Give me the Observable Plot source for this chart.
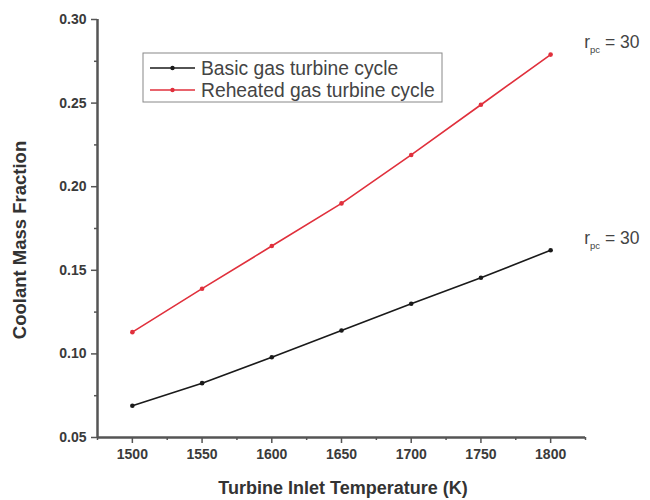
<!DOCTYPE html>
<html>
<head>
<meta charset="utf-8">
<script src="https://cdn.jsdelivr.net/npm/d3@7"></script>
<script src="https://cdn.jsdelivr.net/npm/@observablehq/plot@0.6"></script>
<style>
  html, body { margin: 0; padding: 0; background: #fff; }
  #chart { width: 650px; height: 500px; }
</style>
</head>
<body>
<div id="chart"></div>
<script>
const temperatures = [1500, 1550, 1600, 1650, 1700, 1750, 1800];
const basicValues = [0.069, 0.0825, 0.098, 0.114, 0.130, 0.1455, 0.162];
const reheatValues = [0.113, 0.139, 0.1645, 0.190, 0.219, 0.249, 0.279];
const seriesNames = ["Basic gas turbine cycle", "Reheated gas turbine cycle"];
const seriesColors = ["#1a1a1a", "#e0303c"];
const xTicks = [1500, 1550, 1600, 1650, 1700, 1750, 1800];
const xMinorTicks = [1475, 1525, 1575, 1625, 1675, 1725, 1775, 1825];
const yTicks = [0.05, 0.10, 0.15, 0.20, 0.25, 0.30];
const yMinorTicks = [0.075, 0.125, 0.175, 0.225, 0.275];
const annotationText = "= 30";

const data = [];
temperatures.forEach((t, i) => {
  data.push({series: seriesNames[0], t, v: basicValues[i]});
  data.push({series: seriesNames[1], t, v: reheatValues[i]});
});

const axisColor = "#555";
const font = "'Liberation Sans', Arial, sans-serif";

const chart = Plot.plot({
  width: 650,
  height: 500,
  marginLeft: 97,
  marginRight: 65,
  marginTop: 19,
  marginBottom: 63,
  style: {fontFamily: font, fontSize: "14px", background: "#fff"},
  x: {domain: [1475, 1825]},
  y: {domain: [0.05, 0.30]},
  color: {domain: seriesNames, range: seriesColors},
  marks: [
    Plot.axisX({ticks: xTicks, tickSize: 6, tickPadding: 6, stroke: axisColor, strokeWidth: 1.5,
      tickFormat: d => String(d), fontWeight: "bold", fill: "#3a3a3a", label: null}),
    Plot.axisX({ticks: xMinorTicks, tickSize: 3, stroke: axisColor, strokeWidth: 1.5, tickFormat: () => "", label: null}),
    Plot.axisY({ticks: yTicks, tickSize: 6, tickPadding: 5, stroke: axisColor, strokeWidth: 1.5,
      tickFormat: d3.format(".2f"), fontWeight: "bold", fill: "#3a3a3a", label: null}),
    Plot.axisY({ticks: yMinorTicks, tickSize: 3, stroke: axisColor, strokeWidth: 1.5, tickFormat: () => "", label: null}),
    Plot.ruleY([0.05], {stroke: axisColor, strokeWidth: 2.5}),
    Plot.ruleX([1475], {stroke: axisColor, strokeWidth: 2.5}),
    Plot.line(data, {x: "t", y: "v", stroke: "series", strokeWidth: 1.6}),
    Plot.dot(data, {x: "t", y: "v", fill: "series", r: 2.3, stroke: null})
  ]
});

const svg = d3.select(chart);
const xs = chart.scale("x"), ys = chart.scale("y");

// axis titles
svg.append("text")
  .attr("x", 343).attr("y", 494)
  .attr("text-anchor", "middle")
  .attr("font-family", font).attr("font-size", 18).attr("font-weight", "bold").attr("fill", "#333")
  .text("Turbine Inlet Temperature (K)");
svg.append("text")
  .attr("transform", `translate(26, 240) rotate(-90)`)
  .attr("text-anchor", "middle")
  .attr("font-family", font).attr("font-size", 18.5).attr("font-weight", "bold").attr("fill", "#333")
  .text("Coolant Mass Fraction");

// annotations r_pc = 30
[basicValues, reheatValues].forEach(vals => {
  const last = vals.length - 1;
  const px = xs.apply(temperatures[last]) + 34;
  const py = ys.apply(vals[last]) - 6;
  const t = svg.append("text")
    .attr("x", px).attr("y", py)
    .attr("text-anchor", "start")
    .attr("font-family", font).attr("font-size", 17.5).attr("fill", "#444");
  t.append("tspan").attr("fill", "#444").text("r");
  t.append("tspan").attr("fill", "#444").attr("font-size", 9.5).attr("dy", 5).text("pc");
  t.append("tspan").attr("fill", "#444").attr("dy", -5).attr("dx", 5).text(annotationText);
});

// legend
const lg = svg.append("g").attr("transform", "translate(143,53)");
lg.append("rect").attr("width", 299).attr("height", 49)
  .attr("fill", "#fff").attr("stroke", "#888").attr("stroke-width", 1);
seriesNames.forEach((name, i) => {
  const y = 15 + i * 22;
  lg.append("line").attr("x1", 7).attr("x2", 52).attr("y1", y).attr("y2", y)
    .attr("stroke", seriesColors[i]).attr("stroke-width", 1.6);
  lg.append("circle").attr("cx", 29.5).attr("cy", y).attr("r", 2.2).attr("fill", seriesColors[i]);
  lg.append("text").attr("x", 58).attr("y", y + 6.5)
    .attr("text-anchor", "start")
    .attr("font-family", font).attr("font-size", 19.3).attr("fill", "#444").text(name);
});

document.getElementById("chart").appendChild(chart);
</script>
</body>
</html>
